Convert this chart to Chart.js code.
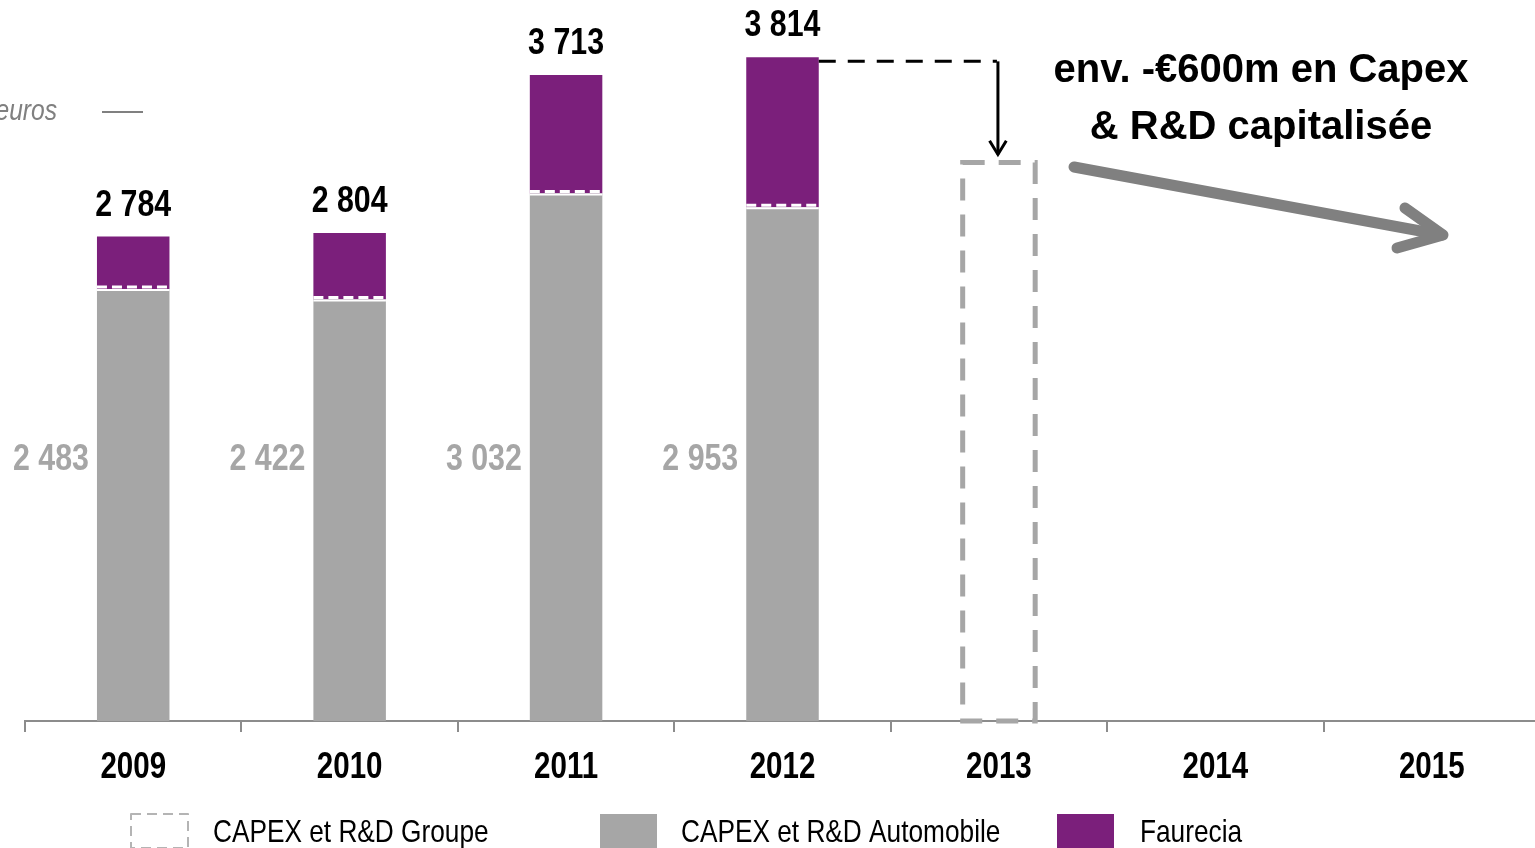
<!DOCTYPE html>
<html>
<head>
<meta charset="utf-8">
<script src="https://cdn.jsdelivr.net/npm/chart.js@4"></script>
<style>
  html, body { margin: 0; padding: 0; overflow: hidden; background: #fff; }
  #wrap { width: 1540px; height: 848px; }
</style>
</head>
<body>
<div id="wrap"><canvas id="myChart"></canvas></div>
<script>
const years = ['2009', '2010', '2011', '2012', '2013', '2014', '2015'];
const automobile = [2483, 2422, 3032, 2953, null, null, null];
const faurecia = [301, 382, 681, 861, null, null, null];
const groupe = [null, null, null, null, 3210, null, null];
const totals = [2784, 2804, 3713, 3814];
const annotation = ['env. -€600m en Capex', '& R&D capitalisée'];
const unitLabel = 'euros';

const GREY = '#A6A6A6';
const PURPLE = '#7B1F7B';
const FONT = "'Liberation Sans', Arial, sans-serif";
const NARROW = 0.82; // no narrow face installed, squeeze horizontally instead

function fmt(n) {
    return String(n).replace(/\B(?=(\d{3})+(?!\d))/g, ' ');
}

function narrowText(ctx, text, x, y, align) {
    ctx.save();
    ctx.translate(x, y);
    ctx.scale(NARROW, 1);
    ctx.textAlign = align;
    ctx.fillText(text, 0, 0);
    ctx.restore();
}

function arrowHead(ctx, x, y, angle, len, spread) {
    ctx.beginPath();
    ctx.moveTo(x - len * Math.cos(angle - spread), y - len * Math.sin(angle - spread));
    ctx.lineTo(x, y);
    ctx.lineTo(x - len * Math.cos(angle + spread), y - len * Math.sin(angle + spread));
    ctx.stroke();
}

const decorations = {
    id: 'decorations',
    afterDatasetsDraw(chart) {
        const ctx = chart.ctx;
        const xScale = chart.scales.x;
        const yScale = chart.scales.y;
        const autoMeta = chart.getDatasetMeta(0);
        const faurMeta = chart.getDatasetMeta(1);
        const groupMeta = chart.getDatasetMeta(2);
        ctx.save();

        // white dashed split between the two stacked parts
        autoMeta.data.forEach((bar, i) => {
            if (automobile[i] == null) return;
            const l = bar.x - bar.width / 2, r = bar.x + bar.width / 2;
            ctx.strokeStyle = '#fff';
            ctx.lineWidth = 2;
            ctx.setLineDash([]);
            ctx.beginPath(); ctx.moveTo(l, bar.y + 1); ctx.lineTo(r, bar.y + 1); ctx.stroke();
            ctx.lineWidth = 3;
            ctx.setLineDash([10, 5]);
            ctx.beginPath(); ctx.moveTo(l, bar.y - 2); ctx.lineTo(r, bar.y - 2); ctx.stroke();
        });

        // dashed outline for the 2013 group bar
        groupMeta.data.forEach((bar, i) => {
            if (groupe[i] == null) return;
            ctx.strokeStyle = GREY;
            ctx.lineWidth = 5;
            ctx.setLineDash([22, 14]);
            ctx.strokeRect(bar.x - bar.width / 2, bar.y, bar.width, bar.base - bar.y);
        });
        ctx.setLineDash([]);

        // totals above the bars
        ctx.font = 'bold 37px ' + FONT;
        ctx.fillStyle = '#000';
        ctx.textBaseline = 'alphabetic';
        totals.forEach((t, i) => {
            const bar = faurMeta.data[i];
            narrowText(ctx, fmt(t), bar.x, bar.y - 21, 'center');
        });

        // automobile values left of the bars
        ctx.fillStyle = GREY;
        ctx.textBaseline = 'middle';
        automobile.forEach((v, i) => {
            if (v == null) return;
            const bar = autoMeta.data[i];
            narrowText(ctx, fmt(v), bar.x - bar.width / 2 - 8, yScale.getPixelForValue(1500), 'right');
        });

        // year labels under the axis
        ctx.fillStyle = '#000';
        ctx.font = 'bold 36px ' + FONT;
        years.forEach((y, i) => {
            narrowText(ctx, y, xScale.getPixelForValue(i), 768, 'center');
        });

        // dashed connector from 2012 to 2013
        const b12 = faurMeta.data[3];
        const b13 = groupMeta.data[4];
        const ly = b12.y + 4;
        ctx.strokeStyle = '#000';
        ctx.lineWidth = 3;
        ctx.setLineDash([17, 12]);
        ctx.beginPath(); ctx.moveTo(b12.x + b12.width / 2, ly); ctx.lineTo(b13.x - 2, ly); ctx.stroke();
        ctx.setLineDash([]);
        ctx.beginPath(); ctx.moveTo(b13.x - 1, ly); ctx.lineTo(b13.x - 1, b13.y - 8); ctx.stroke();
        arrowHead(ctx, b13.x - 1, b13.y - 8, Math.PI / 2, 16, 0.55);

        // annotation text
        ctx.fillStyle = '#000';
        ctx.textAlign = 'center';
        ctx.textBaseline = 'middle';
        ctx.font = 'bold 40px ' + FONT;
        ctx.fillText(annotation[0], 1261, 71);
        ctx.fillText(annotation[1], 1261, 128);

        // big grey trend arrow
        ctx.strokeStyle = '#808080';
        ctx.lineWidth = 11;
        ctx.lineCap = 'round';
        ctx.lineJoin = 'round';
        ctx.beginPath(); ctx.moveTo(1074, 167); ctx.lineTo(1442, 235); ctx.stroke();
        ctx.beginPath(); ctx.moveTo(1405, 208); ctx.lineTo(1443, 235); ctx.lineTo(1397, 248); ctx.stroke();
        ctx.lineCap = 'butt';

        // unit label
        ctx.fillStyle = '#808080';
        ctx.font = 'italic 30px ' + FONT;
        narrowText(ctx, unitLabel, 57, 112, 'right');
        ctx.strokeStyle = '#808080';
        ctx.lineWidth = 2;
        ctx.beginPath(); ctx.moveTo(102, 112); ctx.lineTo(143, 112); ctx.stroke();

        // legend
        ctx.font = '32px ' + FONT;
        ctx.fillStyle = '#000';
        ctx.strokeStyle = '#B4B4B4';
        ctx.lineWidth = 2;
        ctx.setLineDash([10, 6]);
        ctx.strokeRect(131, 814, 57, 34);
        ctx.setLineDash([]);
        narrowText(ctx, chart.data.datasets[2].label, 213, 833, 'left');
        ctx.fillStyle = GREY;
        ctx.fillRect(600, 814, 57, 34);
        ctx.fillStyle = '#000';
        narrowText(ctx, chart.data.datasets[0].label, 681, 833, 'left');
        ctx.fillStyle = PURPLE;
        ctx.fillRect(1057, 814, 57, 34);
        ctx.fillStyle = '#000';
        narrowText(ctx, chart.data.datasets[1].label, 1140, 833, 'left');

        ctx.restore();
    }
};

new Chart(document.getElementById('myChart'), {
    type: 'bar',
    data: {
        labels: years,
        datasets: [
            { label: 'CAPEX et R&D Automobile', data: automobile, backgroundColor: GREY, borderWidth: 0 },
            { label: 'Faurecia', data: faurecia, backgroundColor: PURPLE, borderWidth: 0 },
            { label: 'CAPEX et R&D Groupe', data: groupe, backgroundColor: 'rgba(0,0,0,0)', borderWidth: 0 }
        ]
    },
    options: {
        responsive: true,
        maintainAspectRatio: false,
        animation: false,
        layout: { padding: { left: 25, top: 25, right: 0, bottom: 0 } },
        datasets: { bar: { categoryPercentage: 1, barPercentage: 0.335 } },
        plugins: { legend: { display: false }, tooltip: { enabled: false } },
        scales: {
            x: {
                stacked: true,
                afterFit: (scale) => { scale.height = 127; },
                border: { display: true, color: '#8C8C8C', width: 2 },
                grid: { offset: true, drawOnChartArea: false, drawTicks: true, tickLength: 11, color: '#8C8C8C', lineWidth: 2 },
                ticks: { display: false }
            },
            y: {
                stacked: true,
                display: false,
                min: 0,
                max: 4000
            }
        }
    },
    plugins: [decorations]
});
</script>
</body>
</html>
